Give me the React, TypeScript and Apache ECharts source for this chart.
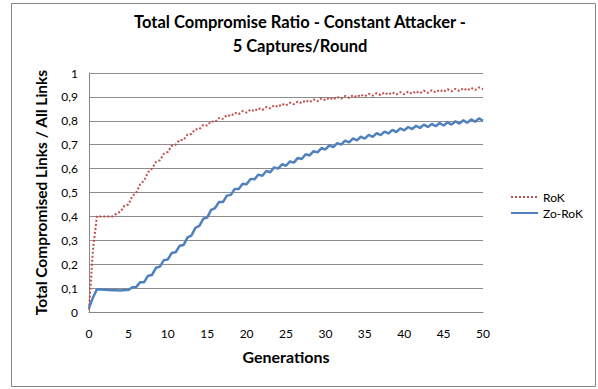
import React, { useEffect, useRef } from "react";
import * as echarts from "echarts";

const titleLines = ["Total Compromise Ratio - Constant Attacker -", "5 Captures/Round"];
const xTitle = "Generations";
const yTitle = "Total Compromised Links / All Links";
const seriesNames = ["RoK", "Zo-RoK"];

// values at whole generations 0..50
const rokAtGen = [
  0.01, 0.40, 0.40, 0.40, 0.42, 0.45, 0.50, 0.55, 0.60, 0.635,
  0.67, 0.70, 0.72, 0.745, 0.765, 0.78, 0.795, 0.808, 0.82, 0.828,
  0.834, 0.84, 0.845, 0.852, 0.858, 0.864, 0.869, 0.874, 0.878, 0.882,
  0.886, 0.889, 0.892, 0.896, 0.899, 0.902, 0.905, 0.908, 0.909, 0.91,
  0.911, 0.913, 0.915, 0.917, 0.919, 0.921, 0.923, 0.925, 0.927, 0.929,
  0.932,
];
// values at half generations 0.5..49.5 (saw-tooth peaks)
const rokAtHalf = [
  0.26, 0.40, 0.40, 0.412, 0.445, 0.485, 0.535, 0.585, 0.628, 0.662,
  0.695, 0.72, 0.743, 0.765, 0.783, 0.798, 0.812, 0.824, 0.834, 0.841,
  0.847, 0.853, 0.858, 0.865, 0.871, 0.876, 0.881, 0.886, 0.89, 0.894,
  0.897, 0.9, 0.904, 0.907, 0.91, 0.913, 0.916, 0.918, 0.919, 0.92,
  0.922, 0.924, 0.926, 0.928, 0.93, 0.932, 0.934, 0.936, 0.938, 0.94,
];
const zoAtGen = [
  0.017, 0.095, 0.093, 0.091, 0.09, 0.092, 0.105, 0.125, 0.155, 0.19,
  0.22, 0.25, 0.28, 0.32, 0.36, 0.395, 0.435, 0.46, 0.49, 0.515,
  0.535, 0.555, 0.57, 0.585, 0.60, 0.612, 0.625, 0.64, 0.655, 0.668,
  0.68, 0.69, 0.70, 0.71, 0.718, 0.725, 0.733, 0.74, 0.747, 0.753,
  0.76, 0.765, 0.77, 0.774, 0.777, 0.78, 0.784, 0.788, 0.792, 0.796,
  0.80,
];
const zoAtHalf = [
  0.06, 0.094, 0.092, 0.091, 0.092, 0.104, 0.125, 0.152, 0.185, 0.217,
  0.247, 0.277, 0.312, 0.352, 0.39, 0.427, 0.46, 0.487, 0.515, 0.537,
  0.557, 0.575, 0.59, 0.605, 0.618, 0.63, 0.645, 0.66, 0.673, 0.686,
  0.697, 0.707, 0.717, 0.726, 0.734, 0.741, 0.748, 0.755, 0.762, 0.768,
  0.774, 0.779, 0.784, 0.787, 0.791, 0.794, 0.798, 0.802, 0.806, 0.81,
];

function merge(atGen: number[], atHalf: number[]) {
  const out: number[][] = [];
  for (let g = 0; g < atGen.length; g++) {
    out.push([g, atGen[g]]);
    if (g < atHalf.length) out.push([g + 0.5, atHalf[g]]);
  }
  return out;
}

const FONT = "Lato, 'Open Sans', sans-serif";

export default function App() {
  const ref = useRef<HTMLDivElement>(null);
  useEffect(() => {
    if (!ref.current) return;
    const chart = echarts.init(ref.current, undefined, { renderer: "svg" });
    chart.setOption({
      animation: false,
      backgroundColor: "#ffffff",
      textStyle: { fontFamily: FONT },
      graphic: [
        {
          type: "rect",
          shape: { x: 11.5, y: 3.5, width: 584, height: 383 },
          style: { fill: "none", stroke: "#868686", lineWidth: 1 },
          silent: true,
        },
      ],
      title: {
        text: titleLines.join("\n"),
        left: 295,
        textAlign: "center",
        top: 5,
        textStyle: {
          fontFamily: FONT,
          fontSize: 16.5,
          fontWeight: "bold",
          color: "#000",
          lineHeight: 24,
        },
      },
      legend: {
        orient: "vertical",
        left: 505,
        top: 186,
        itemWidth: 27,
        itemHeight: 10,
        itemGap: 4,
        itemStyle: { opacity: 0 },
        textStyle: { fontFamily: FONT, fontSize: 12, color: "#000" },
        data: seriesNames,
      },
      grid: { left: 89, right: 115, top: 73, bottom: 77, containLabel: false },
      xAxis: {
        type: "value",
        min: 0,
        max: 50,
        interval: 5,
        name: xTitle,
        nameLocation: "middle",
        nameGap: 36,
        nameTextStyle: { fontFamily: FONT, fontSize: 16, fontWeight: "bold", color: "#000" },
        axisLine: { show: true, lineStyle: { color: "#868686", width: 1 } },
        axisTick: { show: false },
        axisLabel: { margin: 15, fontFamily: FONT, fontSize: 12, color: "#000" },
        splitLine: { show: false },
      },
      yAxis: {
        type: "value",
        min: 0,
        max: 1,
        interval: 0.1,
        name: yTitle,
        nameLocation: "middle",
        nameGap: 40,
        nameTextStyle: { fontFamily: FONT, fontSize: 15.5, fontWeight: "bold", color: "#000" },
        axisLine: { show: true, lineStyle: { color: "#868686", width: 1 } },
        axisTick: { show: false },
        axisLabel: {
          margin: 11,
          fontFamily: FONT,
          fontSize: 12,
          color: "#000",
          formatter: (v: number) => String(Math.round(v * 10) / 10).replace(".", ","),
        },
        splitLine: { show: true, lineStyle: { color: "#8c8c8c", width: 1 } },
      },
      series: [
        {
          name: seriesNames[0],
          type: "line",
          data: merge(rokAtGen, rokAtHalf),
          showSymbol: false,
          symbol: "none",
          lineStyle: { color: "#C0504D", width: 2, type: [2, 2] },
          itemStyle: { color: "#C0504D" },
        },
        {
          name: seriesNames[1],
          type: "line",
          data: merge(zoAtGen, zoAtHalf),
          showSymbol: false,
          symbol: "none",
          lineStyle: { color: "#4F81BD", width: 2.5 },
          itemStyle: { color: "#4F81BD" },
        },
      ],
    });
    return () => chart.dispose();
  }, []);
  return (
    <div
      ref={ref}
      style={{ position: "fixed", left: 0, top: 0, width: 598, height: 389 }}
    />
  );
}
